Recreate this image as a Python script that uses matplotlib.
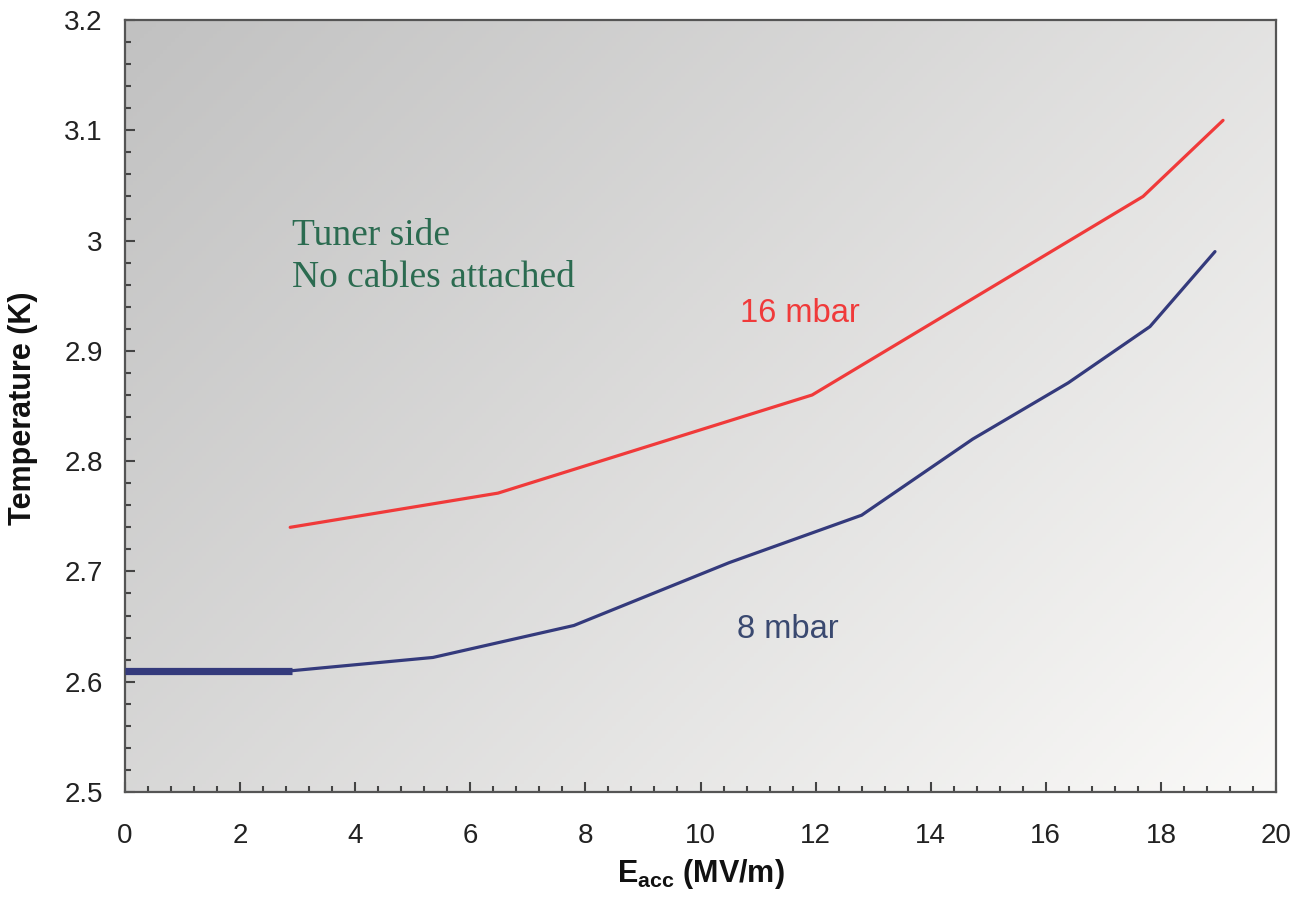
import numpy as np
import matplotlib
matplotlib.use("Agg")
import matplotlib.pyplot as plt

# values
e_16 = [2.87, 6.48, 11.94, 17.69, 19.08]
t_16 = [2.74, 2.771, 2.86, 3.04, 3.109]

e_8 = [2.9, 5.35, 7.8, 10.5, 12.8, 14.73, 16.39, 17.81, 18.94]
t_8 = [2.61, 2.622, 2.651, 2.708, 2.751, 2.82, 2.871, 2.922, 2.99]

# flat thick start of the 8 mbar curve
e_8_start = [0.0, 2.9]
t_8_start = [2.61, 2.61]

x_ticks = np.arange(0, 21, 2)
y_ticks = [2.5, 2.6, 2.7, 2.8, 2.9, 3.0, 3.1, 3.2]
y_tick_labels = ["2.5", "2.6", "2.7", "2.8", "2.9", "3", "3.1", "3.2"]

plt.rcParams["font.family"] = ["Liberation Sans", "DejaVu Sans"]
plt.rcParams["mathtext.fontset"] = "custom"
plt.rcParams["mathtext.rm"] = "Liberation Sans"
plt.rcParams["mathtext.bf"] = "Liberation Sans:bold"

fig = plt.figure(figsize=(12.97, 9.17), dpi=100)
ax = fig.add_axes([0.0964, 0.1363, 0.8874, 0.8419])

# grey-to-white diagonal background
W, H = 1151, 772
u = np.linspace(0, 1, 300)[None, :]
v = np.linspace(0, 1, 200)[:, None]
t = (u * W + v * H) / (W + H)
c0 = np.array([0.757, 0.757, 0.757])
c1 = np.array([0.98, 0.977, 0.971])
grad = c0 + (c1 - c0) * t[..., None]
ax.imshow(grad, extent=[0, 1, 0, 1], transform=ax.transAxes,
          aspect="auto", origin="upper", zorder=0)

red = "#f03a3a"
navy = "#343a7c"
ax.plot(e_16, t_16, color=red, lw=2.3, zorder=3, solid_capstyle="round")
ax.plot(e_8, t_8, color=navy, lw=2.3, zorder=3, solid_capstyle="round")
ax.plot(e_8_start, t_8_start, color=navy, lw=5.2, zorder=3, solid_capstyle="butt")

ax.text(2.9, 3.004, "Tuner side", family="Liberation Serif", fontsize=27,
        color="#2b6b50", va="center", ha="left")
ax.text(2.9, 2.966, "No cables attached", family="Liberation Serif", fontsize=27,
        color="#2b6b50", va="center", ha="left")
ax.text(10.69, 2.934, "16 mbar", fontsize=23.5, color=red, va="center", ha="left")
ax.text(10.63, 2.647, "8 mbar", fontsize=23.5, color="#3a4970", va="center", ha="left")

ax.set_xlim(0, 20)
ax.set_ylim(2.5, 3.2)
ax.set_xticks(x_ticks)
ax.set_xticks(np.arange(0, 20.01, 0.4), minor=True)
ax.set_yticks(y_ticks)
ax.set_yticklabels(y_tick_labels)
ax.set_yticks(np.arange(2.5, 3.201, 0.02), minor=True)

ax.tick_params(which="both", direction="in", colors="#444444", labelcolor="#222222",
               width=1.5, labelsize=20)
ax.tick_params(which="major", length=7)
ax.tick_params(which="minor", length=4.5)
ax.tick_params(axis="x", which="major", pad=22)
ax.tick_params(axis="y", which="major", pad=16)

for s in ax.spines.values():
    s.set_color("#555555")
    s.set_linewidth(1.6)

ax.set_ylabel("Temperature (K)", fontsize=22, fontweight="bold", color="#111111")
ax.yaxis.set_label_coords(-0.076, 0.497)
ax.set_xlabel(r"$\mathbf{E}_{\mathbf{acc}}$ (MV/m)", fontsize=22,
              fontweight="bold", color="#111111")
ax.xaxis.set_label_coords(0.5, -0.084)

fig.savefig("out.png", dpi=100)
